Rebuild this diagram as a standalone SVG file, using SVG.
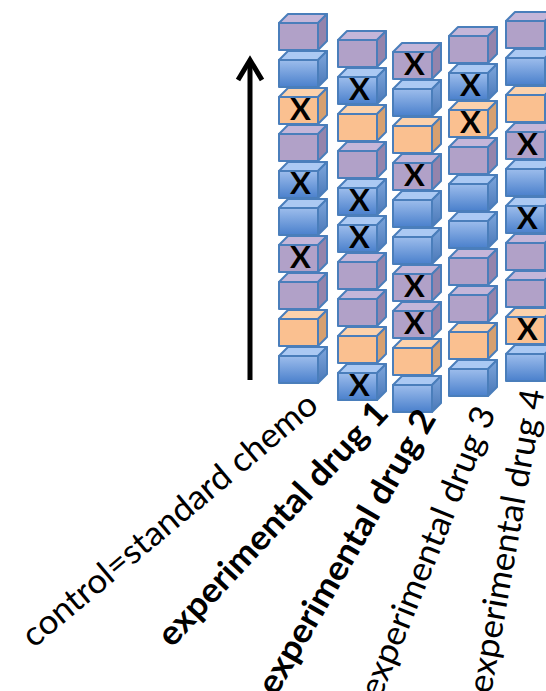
<svg xmlns="http://www.w3.org/2000/svg" xmlns:xlink="http://www.w3.org/1999/xlink" width="546" height="691" viewBox="0 0 546 691">
<style>
.face{stroke:#4a7ebb;stroke-width:2;stroke-linejoin:round}
.lbl{font-family:Lato,Carlito,"Liberation Sans",sans-serif;font-size:34px;fill:#000}
.b{font-weight:bold}
.x{font-family:Lato,Carlito,"Liberation Sans",sans-serif;font-size:31px;font-weight:bold;fill:#000;text-anchor:middle}
</style>
<defs>
<linearGradient id="gbf" x1="0" y1="0" x2="0" y2="1"><stop offset="0" stop-color="#9dbdec"/><stop offset="1" stop-color="#4a80cc"/></linearGradient>
<linearGradient id="gbs" x1="0" y1="0" x2="0" y2="1"><stop offset="0" stop-color="#7ea6dc"/><stop offset="1" stop-color="#4a78b8"/></linearGradient>
<g id="cB">
<polygon class="face" points="0,0 9,-9 48,-9 39,0" fill="#abc9f3"/>
<polygon class="face" points="39,0 48,-9 48,18 39,27" fill="url(#gbs)"/>
<rect class="face" x="0" y="0" width="39" height="27" fill="url(#gbf)"/>
</g>
<g id="cP">
<polygon class="face" points="0,0 9,-9 48,-9 39,0" fill="#c4b6d9"/>
<polygon class="face" points="39,0 48,-9 48,18 39,27" fill="#9484ac"/>
<rect class="face" x="0" y="0" width="39" height="27" fill="#b1a1c8"/>
</g>
<g id="cO">
<polygon class="face" points="0,0 9,-9 48,-9 39,0" fill="#fcd2ac"/>
<polygon class="face" points="39,0 48,-9 48,18 39,27" fill="#d6a070"/>
<rect class="face" x="0" y="0" width="39" height="27" fill="#fac090"/>
</g>
</defs>

<g id="connectors">
<line x1="250" y1="380" x2="250" y2="64" stroke="#000" stroke-width="5"/>
<polyline points="238,80 250,60 262,80" fill="none" stroke="#000" stroke-width="5" stroke-linejoin="miter" stroke-miterlimit="10"/>
</g>

<g id="col-control" transform="translate(279,23)">
<use xlink:href="#cP" y="0"/>
<use xlink:href="#cB" y="37"/>
<use xlink:href="#cO" y="74"/><text class="x" x="21.5" y="97">X</text>
<use xlink:href="#cP" y="111"/>
<use xlink:href="#cB" y="148"/><text class="x" x="21.5" y="171">X</text>
<use xlink:href="#cB" y="185"/>
<use xlink:href="#cP" y="222"/><text class="x" x="21.5" y="245">X</text>
<use xlink:href="#cP" y="259"/>
<use xlink:href="#cO" y="296"/>
<use xlink:href="#cB" y="333"/>
</g>

<g id="col-drug1" transform="translate(338,40)">
<use xlink:href="#cP" y="0"/>
<use xlink:href="#cB" y="37"/><text class="x" x="21.5" y="60">X</text>
<use xlink:href="#cO" y="74"/>
<use xlink:href="#cP" y="111"/>
<use xlink:href="#cB" y="148"/><text class="x" x="21.5" y="171">X</text>
<use xlink:href="#cB" y="185"/><text class="x" x="21.5" y="208">X</text>
<use xlink:href="#cP" y="222"/>
<use xlink:href="#cP" y="259"/>
<use xlink:href="#cO" y="296"/>
<use xlink:href="#cB" y="333"/><text class="x" x="21.5" y="356">X</text>
</g>

<g id="col-drug2" transform="translate(393,52)">
<use xlink:href="#cP" y="0"/><text class="x" x="21.5" y="23">X</text>
<use xlink:href="#cB" y="37"/>
<use xlink:href="#cO" y="74"/>
<use xlink:href="#cP" y="111"/><text class="x" x="21.5" y="134">X</text>
<use xlink:href="#cB" y="148"/>
<use xlink:href="#cB" y="185"/>
<use xlink:href="#cP" y="222"/><text class="x" x="21.5" y="245">X</text>
<use xlink:href="#cP" y="259"/><text class="x" x="21.5" y="282">X</text>
<use xlink:href="#cO" y="296"/>
<use xlink:href="#cB" y="333"/>
</g>

<g id="col-drug3" transform="translate(449,36)">
<use xlink:href="#cP" y="0"/>
<use xlink:href="#cB" y="37"/><text class="x" x="21.5" y="60">X</text>
<use xlink:href="#cO" y="74"/><text class="x" x="21.5" y="97">X</text>
<use xlink:href="#cP" y="111"/>
<use xlink:href="#cB" y="148"/>
<use xlink:href="#cB" y="185"/>
<use xlink:href="#cP" y="222"/>
<use xlink:href="#cP" y="259"/>
<use xlink:href="#cO" y="296"/>
<use xlink:href="#cB" y="333"/>
</g>

<g id="col-drug4" transform="translate(506,21)">
<use xlink:href="#cP" y="0"/>
<use xlink:href="#cB" y="37"/>
<use xlink:href="#cO" y="74"/>
<use xlink:href="#cP" y="111"/><text class="x" x="21.5" y="134">X</text>
<use xlink:href="#cB" y="148"/>
<use xlink:href="#cB" y="185"/><text class="x" x="21.5" y="208">X</text>
<use xlink:href="#cP" y="222"/>
<use xlink:href="#cP" y="259"/>
<use xlink:href="#cO" y="296"/><text class="x" x="21.5" y="319">X</text>
<use xlink:href="#cB" y="333"/>
</g>

<g id="labels">
<text class="lbl" transform="translate(170,520) rotate(-40)" x="0" y="11" text-anchor="middle" textLength="374" lengthAdjust="spacingAndGlyphs">control=standard chemo</text>
<text class="lbl b" transform="translate(273,524) rotate(-47)" x="0" y="11" text-anchor="middle" textLength="320" lengthAdjust="spacingAndGlyphs">experimental drug 1</text>
<text class="lbl b" transform="translate(347,552) rotate(-60)" x="0" y="11" text-anchor="middle" textLength="322" lengthAdjust="spacingAndGlyphs">experimental drug 2</text>
<text class="lbl" transform="translate(428,552) rotate(-68)" x="0" y="11" text-anchor="middle" textLength="310" lengthAdjust="spacingAndGlyphs">experimental drug 3</text>
<text class="lbl" transform="translate(507,541) rotate(-80)" x="0" y="11" text-anchor="middle" textLength="308" lengthAdjust="spacingAndGlyphs">experimental drug 4</text>
</g>
</svg>
